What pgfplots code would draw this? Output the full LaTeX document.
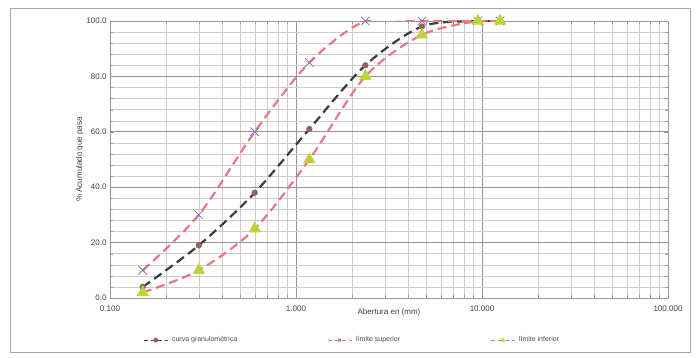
\documentclass[border=0pt]{standalone}
\usepackage{pgfplots}
\pgfplotsset{compat=1.18}
\usepackage{fontspec}
\setmainfont{Liberation Sans}
\definecolor{limc}{RGB}{232,120,130}
\definecolor{gradc}{RGB}{60,60,60}
\definecolor{xmk}{RGB}{140,110,190}
\definecolor{tri}{RGB}{190,210,60}
\definecolor{gmk}{RGB}{150,100,90}
\begin{document}
\begin{tikzpicture}[x=1pt,y=1pt]
\fill[white] (-110,-60) rectangle (590,298);
\draw[gray!70, line width=0.8pt] (-100,-54) rectangle (580,290);
\begin{axis}[
  at={(0pt,0pt)}, anchor=south west,
  scale only axis, width=558pt, height=277pt,
  xmode=log, xmin=0.1, xmax=100, ymin=0, ymax=100,
  log basis x=10,
  xtick={0.1,1,10,100}, xticklabels={0.100,1.000,10.000,100.000},
  minor xtick={0.2,0.3,0.4,0.5,0.6,0.7,0.8,0.9,2,3,4,5,6,7,8,9,20,30,40,50,60,70,80,90},
  ytick={0,20,40,60,80,100},
  yticklabel={\pgfmathprintnumber[fixed,fixed zerofill,precision=1]{\tick}},
  /pgf/number format/assume math mode=true,
  minor y tick num=4,
  grid=both,
  major grid style={gray!85, line width=0.7pt},
  minor grid style={gray!40, line width=0.4pt},
  axis line style={gray!80},
  tick style={gray!80},
  tick label style={font=\fontsize{8}{9}\selectfont, text=black!75},
  xticklabel style={yshift=-4pt},
  xlabel={Abertura en (mm)},
  ylabel={\% Acumulado que pasa},
  label style={font=\fontsize{8}{9}\selectfont, text=black!75},
  xlabel style={yshift=9pt},
  ylabel style={yshift=-4pt},
  legend style={at={(0.434,-0.125)}, anchor=north, draw=none, fill=none,
    font=\fontsize{7}{8}\selectfont, text=black!70, column sep=2pt,
    /tikz/every even column/.append style={column sep=88pt},
    legend cell align=left},
  legend columns=3,
  legend image code/.code={
    \draw[#1, line width=0.8pt, dash pattern=on 4pt off 3pt, mark size=2pt, mark repeat=2, mark phase=2]
      plot coordinates {(0pt,0pt) (12pt,0pt) (24pt,0pt)};},
]
\addplot[gradc, dashed, dash pattern=on 9pt off 5pt, line width=2.2pt, smooth,
  mark=*, mark size=2pt, mark options={solid, fill=gmk, draw=gmk}]
  coordinates {(0.15,4) (0.3,19) (0.6,38) (1.18,61) (2.36,84) (4.75,98) (9.5,100) (12.5,100)};
\addlegendentry{curva granulométrica}
\addplot[limc, dashed, dash pattern=on 9pt off 5pt, line width=2.2pt, smooth,
  mark=x, mark size=6pt, mark options={solid, draw=xmk, line width=0.8pt}]
  coordinates {(0.15,10) (0.3,30) (0.6,60) (1.18,85) (2.36,100) (4.75,100) (9.5,100) (12.5,100)};
\addlegendentry{límite superior}
\addplot[limc, dashed, dash pattern=on 9pt off 5pt, line width=2.2pt, smooth,
  mark=triangle*, mark size=5pt, mark options={solid, fill=tri, draw=tri}]
  coordinates {(0.15,2) (0.3,10) (0.6,25) (1.18,50) (2.36,80) (4.75,95) (9.5,100) (12.5,100)};
\addlegendentry{límite inferior}
\end{axis}
\end{tikzpicture}
\end{document}
